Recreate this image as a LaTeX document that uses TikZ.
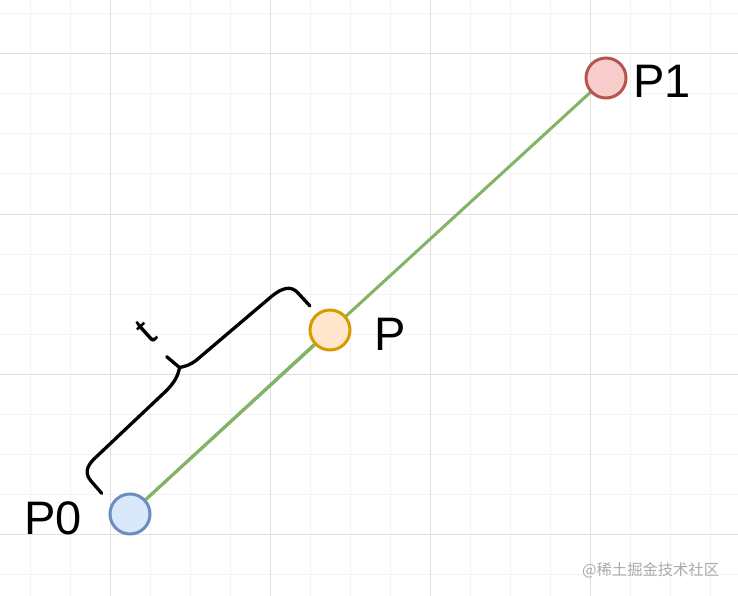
\documentclass[tikz,border=0pt]{standalone}
\usepackage{fontspec}
\setmainfont{Liberation Sans}
\newfontfamily\cjkfont{Noto Sans CJK SC}
\pgfdeclarelayer{gridlayer}
\pgfdeclarelayer{background}
\pgfsetlayers{gridlayer,background,main}
\definecolor{minorgrid}{RGB}{242,242,242}
\definecolor{majorgrid}{RGB}{222,222,222}
\definecolor{edgegreen}{HTML}{82B366}
\definecolor{bluefill}{HTML}{DAE8FC}
\definecolor{bluedraw}{HTML}{6C8EBF}
\definecolor{orangefill}{HTML}{FFE6CC}
\definecolor{orangedraw}{HTML}{D79B00}
\definecolor{redfill}{HTML}{F8CECC}
\definecolor{reddraw}{HTML}{B85450}
\definecolor{markgray}{RGB}{170,170,170}
\tikzset{
  minorline/.style={draw=minorgrid, line width=1pt},
  majorline/.style={draw=majorgrid, line width=1pt},
  pointnode/.style={circle, minimum size=40pt, inner sep=0pt, line width=3pt},
  ptlabel/.style={anchor=base west, inner sep=0pt, font=\fontsize{47}{56}\selectfont},
  seg/.style={draw=edgegreen, line width=3pt},
  bracestyle/.style={draw=black, line width=3.3pt, line cap=round, line join=round},
}
\begin{document}
\begin{tikzpicture}[x=1pt, y=-1pt]
\useasboundingbox (0,0) rectangle (738,596);
\begin{pgfonlayer}{gridlayer}
  \fill[white] (0,0) rectangle (738,596);
  \foreach \x in {30,70,...,730} \draw[minorline] (\x,0) -- (\x,596);
  \foreach \y in {14,54,...,594} \draw[minorline] (0,\y) -- (738,\y);
  \foreach \x in {110,270,...,590} \draw[majorline] (\x,0) -- (\x,596);
  \foreach \y in {54,214,...,534} \draw[majorline] (0,\y) -- (738,\y);
\end{pgfonlayer}

\node[pointnode, fill=bluefill, draw=bluedraw] (p0) at (130,514) {};
\node[pointnode, fill=orangefill, draw=orangedraw] (p) at (330,330) {};
\node[pointnode, fill=redfill, draw=reddraw] (p1) at (606,78) {};

\begin{pgfonlayer}{background}
  \draw[seg] (p0.center) -- (p1.center);
  \draw[seg] (p0.center) -- (p.center);
\end{pgfonlayer}

\node[ptlabel] (l1) at (633,98) {P1};
\node[ptlabel] (l0) at (24,534) {P0};
\node[ptlabel] (lp) at (374.5,350) {P};

% curly brace
\draw[bracestyle] (101.7,493.3) -- (91,481) .. controls (85,474) and (86,467) .. (94,459)
  -- (166,391) .. controls (173,384) and (178,377) .. (179.5,367.5)
  -- (166.7,356.7);
\draw[bracestyle] (179.5,367.5) .. controls (185,366.5) and (190,365) .. (196,360.5)
  -- (272,296) .. controls (282,288) and (291,285) .. (298,293) -- (310,306);
\node[rotate=42, inner sep=0pt, font=\fontsize{41}{48}\selectfont] (tl) at (146,332) {t};

\node[anchor=base west, inner sep=0pt, text=markgray, font=\cjkfont\fontsize{15.3}{18}\selectfont] (wm) at (582,575) {@稀土掘金技术社区};
\end{tikzpicture}
\end{document}
